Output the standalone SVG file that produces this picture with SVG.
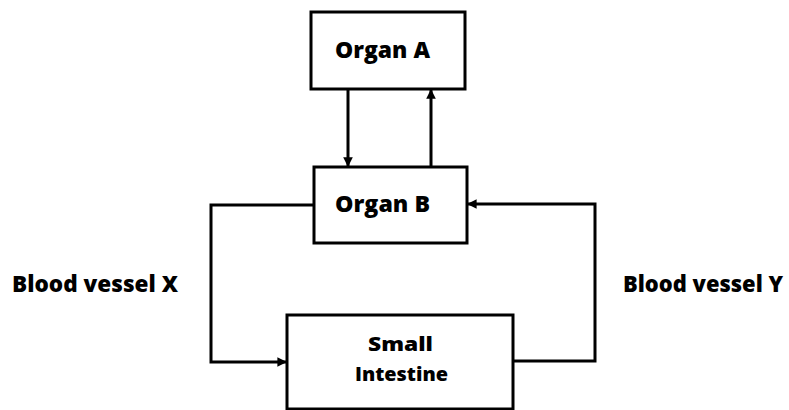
<svg xmlns="http://www.w3.org/2000/svg" width="789" height="410" viewBox="0 0 789 410">
<style>
.box{fill:#fff;stroke:#000;stroke-width:3}
.line{fill:none;stroke:#000;stroke-width:3}
text{font-family:"Open Sans","Liberation Sans",sans-serif;font-weight:800;font-size:22px;fill:#000;text-anchor:middle}
text.s{font-size:20px}
</style>
<defs>
<marker id="ah" viewBox="0 0 10 10" refX="9" refY="5" markerWidth="3.2" markerHeight="3.2" orient="auto" markerUnits="strokeWidth">
<path d="M0,0 L10,5 L0,10 Z" fill="#000"/>
</marker>
</defs>
<rect width="789" height="410" fill="#fff"/>
<g id="connectors">
<line class="line" x1="348" y1="89" x2="348" y2="166" marker-end="url(#ah)"/>
<line class="line" x1="431" y1="167" x2="431" y2="90" marker-end="url(#ah)"/>
<polyline class="line" points="314,205 211,205 211,362 286,362" marker-end="url(#ah)"/>
<polyline class="line" points="513,361 595,361 595,204 468,204" marker-end="url(#ah)"/>
</g>
<g id="organA">
<rect class="box" x="311" y="12" width="154" height="77"/>
<text x="382.5" y="58" textLength="95" lengthAdjust="spacingAndGlyphs">Organ A</text>
</g>
<g id="organB">
<rect class="box" x="314" y="167" width="153" height="76"/>
<text x="382.5" y="212" textLength="95" lengthAdjust="spacingAndGlyphs">Organ B</text>
</g>
<g id="smallIntestine">
<rect class="box" x="287" y="315" width="226" height="94"/>
<text class="s" x="400.5" y="351" textLength="65" lengthAdjust="spacingAndGlyphs">Small</text>
<text class="s" x="401.5" y="381" textLength="93" lengthAdjust="spacingAndGlyphs">Intestine</text>
</g>
<g id="labelX"><text x="95" y="292" textLength="166" lengthAdjust="spacingAndGlyphs">Blood vessel X</text></g>
<g id="labelY"><text x="703" y="292" textLength="160" lengthAdjust="spacingAndGlyphs">Blood vessel Y</text></g>
</svg>
